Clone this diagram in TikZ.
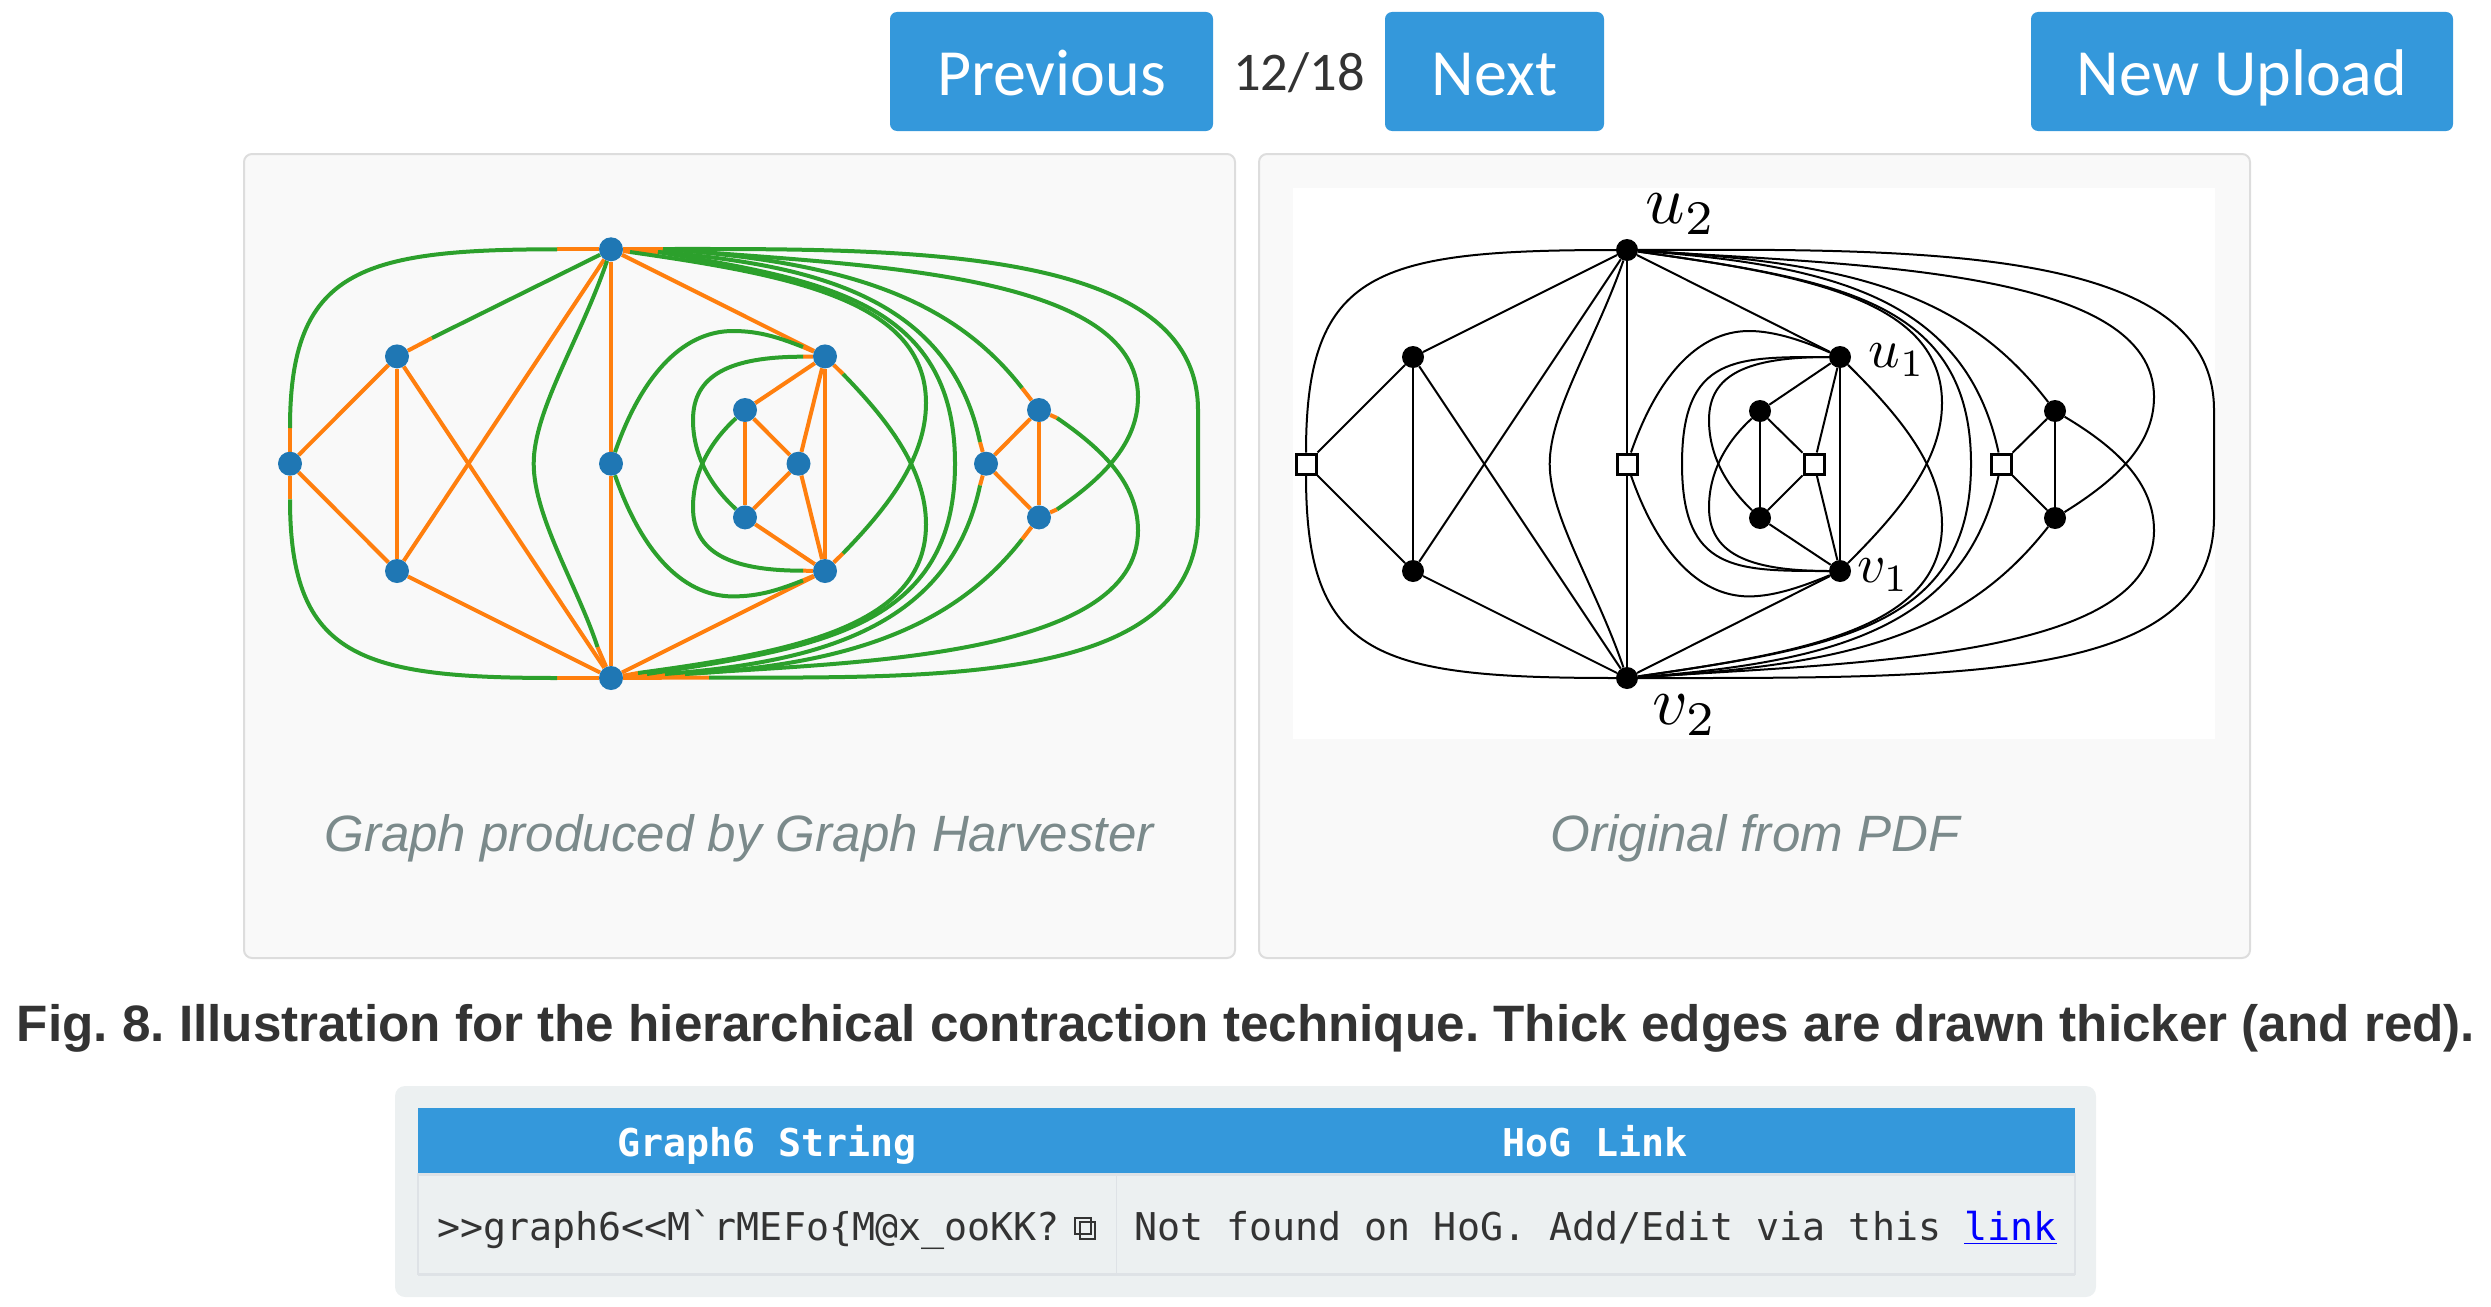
\documentclass[tikz,border=0pt]{standalone}
\usepackage{fontspec}
\usepackage{amsmath}
\setmainfont{Liberation Sans}
\newfontfamily\btnfont{Carlito}
\newfontfamily\monofont{DejaVu Sans Mono}
\usetikzlibrary{backgrounds}

\definecolor{btnblue}{HTML}{3498DB}
\definecolor{edgegreen}{HTML}{2CA02C}
\definecolor{edgeorange}{HTML}{FF7F0E}
\definecolor{dotblue}{HTML}{1F77B4}
\definecolor{panelgray}{HTML}{F9F9F9}
\definecolor{panelline}{HTML}{DDDDDD}
\definecolor{capgray}{HTML}{7B8A8B}
\definecolor{wellgray}{HTML}{ECF0F1}
\definecolor{cellline}{HTML}{DEE2E6}
\definecolor{inkgray}{HTML}{333333}

\tikzset{
  btn/.style = {fill=btnblue, rounded corners=7pt},
  btntext/.style = {text=white, anchor=base, inner sep=0pt, font=\btnfont\fontsize{66}{66}\selectfont},
  panel/.style = {draw=panelline, line width=2pt, fill=panelgray, rounded corners=8pt},
  captext/.style = {text=capgray, anchor=base, inner sep=0pt, font=\fontsize{51.1}{52}\selectfont\itshape},
  straight/.style = {draw=edgeorange, line width=4pt},
  curve/.style = {draw=edgegreen, line width=4pt},
  dot/.style = {circle, fill=dotblue, inner sep=0pt, minimum size=24pt},
  pdfline/.style = {draw=black, line width=2pt},
  pdfdot/.style = {circle, fill=black, inner sep=0pt, minimum size=22pt},
  pdfbox/.style = {rectangle, draw=black, fill=white, line width=3pt, inner sep=0pt, minimum size=20pt},
  pdflabel/.style = {inner sep=0pt, scale=6.9},
  mono/.style = {text=inkgray, anchor=base west, inner sep=0pt, font=\monofont\fontsize{38.3}{39}\selectfont},
  monohead/.style = {text=white, anchor=base, inner sep=0pt, font=\monofont\bfseries\fontsize{38.3}{39}\selectfont}
}

\begin{document}
\frenchspacing
\begin{tikzpicture}[x=1pt, y=-1pt]
\useasboundingbox (0,0) rectangle (2491,1306);

% top buttons
\fill[btn] (890,12) rectangle (1213,131);
\node[btntext] (prev) at (1051.5,95) {Previous};
\node[text=inkgray, anchor=base, inner sep=0pt, font=\btnfont\fontsize{54.5}{56}\selectfont] (count) at (1299,90) {12/18};
\fill[btn] (1385,12) rectangle (1604,131);
\node[btntext] (next) at (1494.5,95) {Next};
\fill[btn] (2031,12) rectangle (2453,131);
\node[btntext] (upload) at (2242,95) {New Upload};

% panels
\begin{pgfonlayer}{background}
\path[panel] (244,154) rectangle (1235,958);
\path[panel] (1259,154) rectangle (2250,958);
\fill[white] (1293,188) rectangle (2215,739);
\end{pgfonlayer}
\node[captext] (capleft) at (739,851) {Graph produced by Graph Harvester};
\node[captext] (capright) at (1755,851) {Original from PDF};

% graph from the harvester
\node[dot] (a)   at (290,463.7) {};
\node[dot] (b)   at (397,356.4) {};
\node[dot] (c)   at (397,571) {};
\node[dot] (top) at (611,249.3) {};
\node[dot] (mid) at (611,463.7) {};
\node[dot] (bot) at (611,678) {};
\node[dot] (u)   at (825,356.4) {};
\node[dot] (v)   at (825,571) {};
\node[dot] (ia)  at (745,410) {};
\node[dot] (ib)  at (745,517.4) {};
\node[dot] (ic)  at (798.5,463.7) {};
\node[dot] (ra)  at (986,463.7) {};
\node[dot] (rb)  at (1039,410) {};
\node[dot] (rc)  at (1039,517.4) {};

% curve ends
\coordinate (s1) at (290,428);
\coordinate (s2) at (557,249.3);
\coordinate (s3) at (290,499.4);
\coordinate (s4) at (557,678);
\coordinate (s5) at (432,338);
\coordinate (s6) at (597.5,647);
\coordinate (s7) at (803,347);
\coordinate (s8) at (803,580.4);
\coordinate (s9) at (803,356.7);
\coordinate (s10) at (803,570.7);
\coordinate (s11) at (843,374);
\coordinate (s12) at (843,553.4);
\coordinate (s13) at (630,252);
\coordinate (s14) at (638,673);
\coordinate (s15) at (658,252);
\coordinate (s16) at (647,674);
\coordinate (s17) at (980,442);
\coordinate (s18) at (980,485.4);
\coordinate (s19) at (665,674);
\coordinate (s20) at (1022,388);
\coordinate (s21) at (1022,539.4);
\coordinate (s22) at (685,674);
\coordinate (s23) at (1057,418);
\coordinate (s24) at (1057,509.4);
\coordinate (s25) at (700,673);
\coordinate (s26) at (663,249);
\coordinate (s27) at (709,677.5);

\begin{pgfonlayer}{background}
\draw[straight] (a) -- (b);
\draw[straight] (a) -- (c);
\draw[straight] (b) -- (c);
\draw[straight] (b) -- (bot);
\draw[straight] (c) -- (top);
\draw[straight] (c) -- (bot);
\draw[straight] (top) -- (mid);
\draw[straight] (mid) -- (bot);
\draw[straight] (top) -- (u);
\draw[straight] (bot) -- (v);
\draw[straight] (u) -- (ia);
\draw[straight] (u) -- (ic);
\draw[straight] (u) -- (v);
\draw[straight] (v) -- (ib);
\draw[straight] (v) -- (ic);
\draw[straight] (ia) -- (ib);
\draw[straight] (ia) -- (ic);
\draw[straight] (ib) -- (ic);
\draw[straight] (ra) -- (rb);
\draw[straight] (ra) -- (rc);
\draw[straight] (rb) -- (rc);
\draw[straight] (a) -- (s1);
\draw[straight] (top) -- (s2);
\draw[straight] (a) -- (s3);
\draw[straight] (bot) -- (s4);
\draw[straight] (b) -- (s5);
\draw[straight] (bot) -- (s6);
\draw[straight] (u) -- (s7);
\draw[straight] (v) -- (s8);
\draw[straight] (u) -- (s9);
\draw[straight] (v) -- (s10);
\draw[straight] (u) -- (s11);
\draw[straight] (v) -- (s12);
\draw[straight] (top) -- (s13);
\draw[straight] (bot) -- (s14);
\draw[straight] (top) -- (s15);
\draw[straight] (bot) -- (s16);
\draw[straight] (ra) -- (s17);
\draw[straight] (ra) -- (s18);
\draw[straight] (bot) -- (s19);
\draw[straight] (rb) -- (s20);
\draw[straight] (rc) -- (s21);
\draw[straight] (bot) -- (s22);
\draw[straight] (rb) -- (s23);
\draw[straight] (rc) -- (s24);
\draw[straight] (bot) -- (s25);
\draw[straight] (top) -- (s26);
\draw[straight] (bot) -- (s27);

\draw[curve] (s1) .. controls (290,270) and (360,249.3) .. (s2);
\draw[curve] (s3) .. controls (290,657.4) and (360,678) .. (s4);
\draw[curve] (s5) -- (top);
\draw[curve] (top) .. controls (580,340) and (533.7,410) .. (533.7,463.7) .. controls (533.7,517) and (578,587) .. (s6);
\draw[curve] (mid) .. controls (640,380) and (680,331) .. (733,331) .. controls (760,331) and (780,338) .. (s7);
\draw[curve] (mid) .. controls (640,547.4) and (680,596.4) .. (733,596.4) .. controls (760,596.4) and (780,589.4) .. (s8);
\draw[curve] (ib) .. controls (715,490) and (693,460) .. (693,420) .. controls (693,375) and (730,356.7) .. (s9);
\draw[curve] (ia) .. controls (715,437.4) and (693,467.4) .. (693,507.4) .. controls (693,552.4) and (730,570.7) .. (s10);
\draw[curve] (s13) .. controls (790,275) and (926,300) .. (926,403) .. controls (926,460) and (885,510) .. (s12);
\draw[curve] (s11) .. controls (885,417.4) and (926,467.4) .. (926,524.4) .. controls (926,627.4) and (790,652.4) .. (s14);
\draw[curve] (s15) .. controls (820,280) and (955,300) .. (955,463.7) .. controls (955,627.4) and (820,647.4) .. (s16);
\draw[curve] (s15) .. controls (820,265) and (950,300) .. (s17);
\draw[curve] (s18) .. controls (950,627) and (820,662) .. (s19);
\draw[curve] (s26) .. controls (840,262) and (950,295) .. (s20);
\draw[curve] (s21) .. controls (950,632) and (840,665) .. (s22);
\draw[curve] (s26) .. controls (850,265) and (1138,270) .. (1138,397) .. controls (1138,445) and (1100,480) .. (s24);
\draw[curve] (s23) .. controls (1100,447.4) and (1138,482.4) .. (1138,530.4) .. controls (1138,657.4) and (850,662.4) .. (s25);
\draw[curve] (s26) .. controls (900,249) and (1198,245) .. (1198,410) -- (1198,517) .. controls (1198,682) and (950,678) .. (s27);
\end{pgfonlayer}

% original from the pdf
\begin{scope}[xshift=1016pt]
\node[pdfdot] (Rb)   at (397,357) {};
\node[pdfdot] (Rc)   at (397,571) {};
\node[pdfdot] (Rtop) at (611,250) {};
\node[pdfdot] (Rbot) at (611,678) {};
\node[pdfdot] (Ru)   at (824,357) {};
\node[pdfdot] (Rv)   at (824,571) {};
\node[pdfdot] (Ria)  at (744,411) {};
\node[pdfdot] (Rib)  at (744,518) {};
\node[pdfdot] (Rrb)  at (1039,411) {};
\node[pdfdot] (Rrc)  at (1039,518) {};
\node[pdfbox] (Ra)   at (290,464) {};
\node[pdfbox] (Rmid) at (611,464) {};
\node[pdfbox] (Ric)  at (798,464) {};
\node[pdfbox] (Rra)  at (985,464) {};

\begin{pgfonlayer}{background}
\draw[pdfline] (Ra) -- (Rb);
\draw[pdfline] (Ra) -- (Rc);
\draw[pdfline] (Rb) -- (Rc);
\draw[pdfline] (Rb) -- (Rbot);
\draw[pdfline] (Rb) -- (Rtop);
\draw[pdfline] (Rc) -- (Rtop);
\draw[pdfline] (Rc) -- (Rbot);
\draw[pdfline] (Rtop) -- (Rmid);
\draw[pdfline] (Rmid) -- (Rbot);
\draw[pdfline] (Rtop) -- (Ru);
\draw[pdfline] (Rbot) -- (Rv);
\draw[pdfline] (Ru) -- (Ria);
\draw[pdfline] (Ru) -- (Ric);
\draw[pdfline] (Ru) -- (Rv);
\draw[pdfline] (Rv) -- (Rib);
\draw[pdfline] (Rv) -- (Ric);
\draw[pdfline] (Ria) -- (Rib);
\draw[pdfline] (Ria) -- (Ric);
\draw[pdfline] (Rib) -- (Ric);
\draw[pdfline] (Rra) -- (Rrb);
\draw[pdfline] (Rra) -- (Rrc);
\draw[pdfline] (Rrb) -- (Rrc);
\draw[pdfline] (Ra) .. controls (290,270) and (360,250) .. (Rtop);
\draw[pdfline] (Ra) .. controls (290,657.4) and (360,678) .. (Rbot);
\draw[pdfline] (Rtop) .. controls (580,340) and (533.7,410) .. (533.7,464) .. controls (533.7,517) and (580,587) .. (Rbot);
\draw[pdfline] (Rmid) .. controls (640,380) and (680,331) .. (733,331) .. controls (760,331) and (790,342) .. (Ru);
\draw[pdfline] (Rmid) .. controls (640,547.4) and (680,596.4) .. (733,596.4) .. controls (760,596.4) and (790,585) .. (Rv);
\draw[pdfline] (Rib) .. controls (715,490) and (693,460) .. (693,420) .. controls (693,375) and (730,357) .. (Ru);
\draw[pdfline] (Ria) .. controls (715,437.4) and (693,467.4) .. (693,507.4) .. controls (693,552.4) and (730,571) .. (Rv);
\draw[pdfline] (Ru) .. controls (720,357) and (666,355) .. (666,464) .. controls (666,572) and (720,571) .. (Rv);
\draw[pdfline] (Rtop) .. controls (790,275) and (926,300) .. (926,403) .. controls (926,460) and (885,510) .. (Rv);
\draw[pdfline] (Ru) .. controls (885,417.4) and (926,467.4) .. (926,524.4) .. controls (926,627.4) and (790,652.4) .. (Rbot);
\draw[pdfline] (Rtop) .. controls (820,280) and (955,300) .. (955,464) .. controls (955,627.4) and (820,647.4) .. (Rbot);
\draw[pdfline] (Rtop) .. controls (820,265) and (950,300) .. (Rra);
\draw[pdfline] (Rra) .. controls (950,627) and (820,662) .. (Rbot);
\draw[pdfline] (Rtop) .. controls (840,262) and (950,295) .. (Rrb);
\draw[pdfline] (Rrc) .. controls (950,632) and (840,665) .. (Rbot);
\draw[pdfline] (Rtop) .. controls (850,265) and (1138,270) .. (1138,397) .. controls (1138,445) and (1100,480) .. (Rrc);
\draw[pdfline] (Rrb) .. controls (1100,447.4) and (1138,482.4) .. (1138,530.4) .. controls (1138,657.4) and (850,662.4) .. (Rbot);
\draw[pdfline] (Rtop) .. controls (900,249) and (1198,245) .. (1198,410) -- (1198,517) .. controls (1198,682) and (950,678) .. (Rbot);
\end{pgfonlayer}

\node[pdflabel] (lu2) at (665,214) {$u_2$};
\node[pdflabel] (lv2) at (669,715) {$v_2$};
\node[pdflabel, scale=0.8] (lu1) at (881,360) {$u_1$};
\node[pdflabel, scale=0.8] (lv1) at (867,575) {$v_1$};
\end{scope}

% caption
\node[text=inkgray, anchor=base, inner sep=0pt, font=\fontsize{51.2}{52}\selectfont\bfseries] (fig) at (1246,1041) {Fig. 8. Illustration for the hierarchical contraction technique. Thick edges are drawn thicker (and red).};

% table
\fill[wellgray, rounded corners=10pt] (395,1086) rectangle (2096,1297);
\fill[btnblue] (418,1108) rectangle (2075,1174);
\draw[cellline, line width=1.5pt] (418,1174) rectangle (2075,1274);
\draw[cellline, line width=1.5pt] (1116.5,1174) -- (1116.5,1274);
\draw[cellline, line width=3pt] (418,1174) -- (2075,1174);
\draw[cellline, line width=3pt] (418,1274) -- (2075,1274);
\node[monohead] (hgraph) at (767,1156) {Graph6 String};
\node[monohead] (hlink) at (1595,1156) {HoG Link};
\node[mono] (gstring) at (437,1240) {>{}>graph6<{}<M`rMEFo\{M@x\_ooKK?};
\node[mono] (gstatus) at (1134,1240) {Not found on HoG. Add/Edit via this \textcolor{blue}{\underline{link}}};
\draw[inkgray, line width=2.5pt] (1075,1218) rectangle (1091,1234);
\draw[inkgray, line width=2.5pt] (1080,1222) rectangle (1095,1239);
\end{tikzpicture}
\end{document}
